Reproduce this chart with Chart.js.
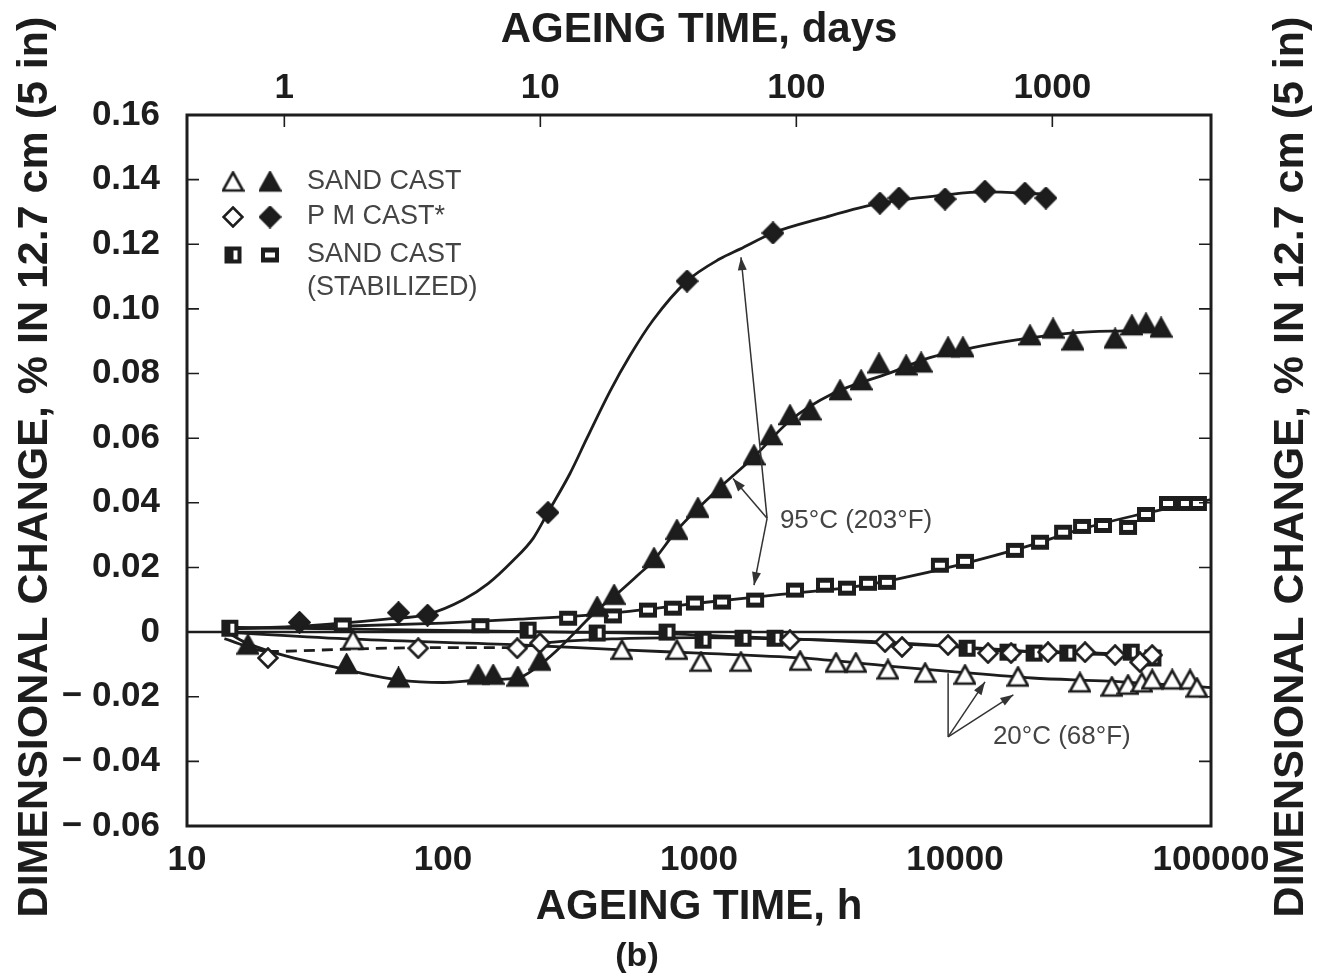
<!DOCTYPE html>
<html>
<head>
<meta charset="utf-8">
<title>Dimensional change vs ageing time</title>
<script src="https://cdn.jsdelivr.net/npm/chart.js@4.4.1/dist/chart.umd.min.js"></script>
<style>
    html, body { margin: 0; padding: 0; background: #fff; }
    #chart { display: block; }
</style>
</head>
<body>
<canvas id="chart" width="1323" height="978"></canvas>
<script>
// [ageing time (h), dimensional change (%)]
const sandCast95 = [[17.3,-0.004],[42,-0.010],[67,-0.0142],[137,-0.0133],[157,-0.0133],[196,-0.0139],[239,-0.009],[400,0.0077],[466,0.0114],[667,0.0228],[820,0.0315],[990,0.0383],[1218,0.0444],[1640,0.0546],[1911,0.0608],[2266,0.067],[2714,0.0685],[3555,0.0747],[4296,0.0778],[5047,0.083],[6440,0.0824],[7370,0.0833],[9390,0.088],[10740,0.088],[19630,0.0917],[24150,0.0938],[28900,0.0901],[42200,0.0907],[49100,0.0948],[55700,0.0954],[63800,0.0941]];
const pmCast95 = [[27.5,0.003],[67,0.006],[87,0.0052],[257,0.037],[898,0.1086],[1945,0.1235],[5090,0.1327],[6040,0.1343],[9140,0.134],[13090,0.1364],[18750,0.1358],[22650,0.1343]];
const stabilized95 = [[40.6,0.0022],[140,0.002],[308,0.0043],[461,0.005],[632,0.0068],[791,0.0074],[964,0.009],[1230,0.0093],[1656,0.0099],[2371,0.013],[3105,0.0145],[3785,0.0136],[4570,0.0151],[5420,0.0154],[8730,0.0207],[10940,0.0219],[17140,0.0253],[21480,0.0278],[26440,0.0309],[31340,0.0327],[37840,0.033],[47420,0.0324],[55720,0.0364],[67920,0.0398],[79800,0.0398],[88900,0.0398]];
const sandCast20 = [[44.5,-0.0025],[500,-0.0056],[820,-0.0056],[1018,-0.0093],[1458,-0.0093],[2482,-0.009],[3430,-0.0096],[4100,-0.0096],[5470,-0.0117],[7640,-0.0127],[10940,-0.0133],[17620,-0.0139],[30760,-0.0157],[41000,-0.017],[47400,-0.0164],[53700,-0.0157],[58900,-0.0148],[70500,-0.0148],[82800,-0.0148],[88100,-0.0173]];
const pmCast20 = [[20.7,-0.008],[80,-0.005],[195,-0.005],[239,-0.0034],[2265,-0.0025],[5330,-0.0031],[6210,-0.0046],[9390,-0.004],[13460,-0.0065],[16560,-0.0065],[23080,-0.0062],[32200,-0.0062],[42200,-0.0071],[52800,-0.0093],[58900,-0.0071]];
const stabilized20 = [[14.7,0.0012],[215,0.0006],[400,-0.0003],[750,0.0],[1037,-0.0025],[1486,-0.0019],[1982,-0.0019],[11150,-0.005],[16100,-0.0062],[20370,-0.0065],[27600,-0.0065],[48800,-0.0062],[59300,-0.008]];

// the hand-drawn fitted curves
const sandCast95Fit = [[15,-0.001],[17.1,-0.0034],[42,-0.0117],[67,-0.0148],[100,-0.0156],[137,-0.0149],[196,-0.0142],[233,-0.0108],[279,-0.0056],[343,0.0015],[400,0.0068],[462,0.0108],[588,0.0182],[655,0.0216],[820,0.0315],[1210,0.0448],[1630,0.054],[2265,0.0654],[3335,0.0738],[5570,0.0802],[7980,0.0849],[11750,0.088],[18460,0.0907],[28900,0.0926],[45300,0.0932],[67300,0.0935]];
const pmCast95Fit = [[14,0.001],[30,0.002],[60,0.004],[87,0.0055],[120,0.010],[150,0.015],[187,0.022],[225,0.029],[257,0.037],[313,0.049],[365,0.060],[449,0.0745],[537,0.0855],[661,0.0965],[898,0.1086],[1208,0.1155],[1445,0.1185],[1945,0.1235],[3000,0.128],[5090,0.1327],[9000,0.1352],[13000,0.1362],[22650,0.1355]];
const stabilized95Fit = [[14,0.001],[40,0.0018],[100,0.0028],[200,0.004],[400,0.0055],[700,0.0075],[1000,0.009],[2000,0.0115],[4000,0.014],[6000,0.0165],[10000,0.0205],[20000,0.027],[30000,0.0315],[50000,0.036],[100000,0.041]];
const sandCast20Fit = [[14,0.0],[45,-0.0022],[200,-0.004],[500,-0.0055],[1000,-0.0065],[2500,-0.008],[5500,-0.0105],[10000,-0.0123],[20000,-0.0142],[40000,-0.0152],[100000,-0.0172]];
const pmCast20Fit = [[14,-0.002],[20.7,-0.006],[45,-0.0052],[100,-0.0048],[195,-0.0048],[240,-0.0035],[500,-0.002],[1000,-0.0017],[2300,-0.0022],[5000,-0.003],[9000,-0.0042],[15000,-0.0058],[30000,-0.0062],[60000,-0.0075]];
const stabilized20Fit = [[14,0.0015],[100,0.0005],[300,0.0],[700,-0.0005],[1500,-0.0015],[3000,-0.0025],[10000,-0.0045],[20000,-0.006],[60000,-0.0075]];

const hourTicks = [10, 100, 1000, 10000, 100000];
const hourTickLabels = ['10', '100', '1000', '10000', '100000'];
const dayTicks = [1, 10, 100, 1000];
const dayTickLabels = ['1', '10', '100', '1000'];
const yTicks = [-0.06, -0.04, -0.02, 0, 0.02, 0.04, 0.06, 0.08, 0.10, 0.12, 0.14, 0.16];
const yTickLabels = ['\u2212 0.06', '\u2212 0.04', '\u2212 0.02', '0', '0.02', '0.04', '0.06', '0.08', '0.10', '0.12', '0.14', '0.16'];

// callouts: label anchor, joint, arrow tips (data units)
const note95 = { text: '95\u00B0C (203\u00B0F)', at: [2070, 0.0343], join: [1845, 0.0352], tips: [[1459, 0.116], [1358, 0.0475], [1640, 0.0145]], heads: [true, true, true] };
const note20 = { text: '20\u00B0C (68\u00B0F)', at: [14060, -0.0324], join: [9400, -0.0324], tips: [[9400, -0.0127], [13100, -0.0154], [16900, -0.0194]], heads: [false, true, true] };

const INK = '#1d1d1d';
const SOFT = '#444';
const FAMILY = "'Liberation Sans', Arial, Helvetica, sans-serif";
const HOURS_PER_DAY = 24;

function marker(w, h, draw) {
    const c = document.createElement('canvas');
    c.width = w;
    c.height = h;
    const g = c.getContext('2d');
    g.lineWidth = 2.6;
    g.strokeStyle = INK;
    g.fillStyle = INK;
    g.lineJoin = 'miter';
    draw(g);
    return c;
}

function triPath(g, s) {
    g.beginPath();
    g.moveTo(s / 2, 2);
    g.lineTo(s - 1.5, s - 3);
    g.lineTo(1.5, s - 3);
    g.closePath();
}

function diaPath(g, s) {
    g.beginPath();
    g.moveTo(s / 2, 1.5);
    g.lineTo(s - 1.5, s / 2);
    g.lineTo(s / 2, s - 1.5);
    g.lineTo(1.5, s / 2);
    g.closePath();
}

const openTri = marker(23, 23, g => { triPath(g, 23); g.fillStyle = '#fff'; g.fill(); g.stroke(); });
const fillTri = marker(23, 23, g => { triPath(g, 23); g.fill(); g.stroke(); });
const openDia = marker(22, 22, g => { diaPath(g, 22); g.fillStyle = '#fff'; g.fill(); g.stroke(); });
const fillDia = marker(23, 23, g => { diaPath(g, 23); g.fill(); g.stroke(); });
const slotH = marker(20, 17, g => { g.fillRect(1, 1, 18, 15); g.fillStyle = '#fff'; g.fillRect(5, 6, 10, 5); });
const slotV = marker(19, 19, g => { g.fillRect(1, 1, 17, 17); g.fillStyle = '#fff'; g.fillRect(10, 5, 4, 9); });

const legendRows = [
    { lines: ['SAND CAST'], marks: [openTri, fillTri] },
    { lines: ['P M CAST*'], marks: [openDia, fillDia] },
    { lines: ['SAND CAST', '(STABILIZED)'], marks: [slotV, slotH] }
];

function pts(arr) {
    return arr.map(([x, y]) => ({ x, y }));
}

function markerSet(label, arr, style) {
    return {
        label,
        data: pts(arr),
        showLine: false,
        pointStyle: style,
        pointRadius: 10,
        pointHoverRadius: 10,
        borderColor: INK,
        backgroundColor: INK
    };
}

function curveSet(label, arr, dashTo) {
    const ds = {
        label,
        data: pts(arr),
        showLine: true,
        pointRadius: 0,
        pointHoverRadius: 0,
        borderColor: INK,
        borderWidth: 2.8,
        cubicInterpolationMode: 'monotone',
        fill: false
    };
    if (dashTo) {
        ds.segment = {
            borderDash: ctx => (ctx.p0DataIndex >= 1 && ctx.p1DataIndex <= dashTo) ? [11, 7] : undefined
        };
    }
    return ds;
}

function arrow(ctx, x0, y0, x1, y1, head) {
    ctx.beginPath();
    ctx.moveTo(x0, y0);
    ctx.lineTo(x1, y1);
    ctx.stroke();
    if (!head) return;
    const a = Math.atan2(y1 - y0, x1 - x0);
    const len = 13, half = 4.5;
    ctx.beginPath();
    ctx.moveTo(x1, y1);
    ctx.lineTo(x1 - len * Math.cos(a) + half * Math.sin(a), y1 - len * Math.sin(a) - half * Math.cos(a));
    ctx.lineTo(x1 - len * Math.cos(a) - half * Math.sin(a), y1 - len * Math.sin(a) + half * Math.cos(a));
    ctx.closePath();
    ctx.fill();
}

function drawNote(chart, note) {
    const { ctx, scales: { x, y } } = chart;
    const jx = x.getPixelForValue(note.join[0]);
    const jy = y.getPixelForValue(note.join[1]);
    ctx.save();
    ctx.strokeStyle = '#333';
    ctx.fillStyle = '#333';
    ctx.lineWidth = 1.5;
    note.tips.forEach((t, i) => {
        arrow(ctx, jx, jy, x.getPixelForValue(t[0]), y.getPixelForValue(t[1]), note.heads[i]);
    });
    ctx.font = `26px ${FAMILY}`;
    ctx.fillStyle = SOFT;
    ctx.textAlign = 'left';
    ctx.textBaseline = 'middle';
    ctx.fillText(note.text, x.getPixelForValue(note.at[0]), y.getPixelForValue(note.at[1]));
    ctx.restore();
}

const overlay = {
    id: 'overlay',
    beforeDatasetsDraw(chart) {
        const { ctx, chartArea: a, scales: { y } } = chart;
        const y0 = y.getPixelForValue(0);
        ctx.save();
        ctx.strokeStyle = INK;
        ctx.lineWidth = 2.5;
        ctx.beginPath();
        ctx.moveTo(a.left, y0);
        ctx.lineTo(a.right, y0);
        ctx.stroke();
        ctx.restore();
    },
    afterDraw(chart) {
        const { ctx, chartArea: a, scales: { y, xTop } } = chart;
        ctx.save();

        // frame and inward ticks
        ctx.strokeStyle = INK;
        ctx.lineWidth = 3;
        ctx.strokeRect(a.left, a.top, a.right - a.left, a.bottom - a.top);
        ctx.lineWidth = 1.6;
        ctx.beginPath();
        yTicks.forEach(v => {
            const py = y.getPixelForValue(v);
            ctx.moveTo(a.left, py);
            ctx.lineTo(a.left + 12, py);
            ctx.moveTo(a.right - 12, py);
            ctx.lineTo(a.right, py);
        });
        dayTicks.forEach(d => {
            const px = xTop.getPixelForValue(d);
            ctx.moveTo(px, a.top);
            ctx.lineTo(px, a.top + 12);
        });
        ctx.stroke();

        // legend
        ctx.font = `27px ${FAMILY}`;
        ctx.textAlign = 'left';
        ctx.textBaseline = 'middle';
        const rowY = [182, 217, 255];
        legendRows.forEach((row, i) => {
            row.marks.forEach((m, k) => {
                ctx.drawImage(m, 233 + 37 * k - m.width / 2, rowY[i] - m.height / 2);
            });
            ctx.fillStyle = SOFT;
            row.lines.forEach((t, j) => ctx.fillText(t, 307, rowY[i] + 33 * j));
        });

        drawNote(chart, note95);
        drawNote(chart, note20);

        // y titles, both reading bottom to top
        ctx.fillStyle = INK;
        ctx.font = `bold 43px ${FAMILY}`;
        ctx.textAlign = 'center';
        ctx.textBaseline = 'middle';
        [35, 1291].forEach(cx => {
            ctx.save();
            ctx.translate(cx, 467);
            ctx.rotate(-Math.PI / 2);
            ctx.fillText('DIMENSIONAL CHANGE, % IN 12.7 cm (5 in)', 0, 0);
            ctx.restore();
        });

        ctx.font = `bold 34px ${FAMILY}`;
        ctx.fillText('(b)', 637, 957);
        ctx.restore();
    }
};

const tickFont = { family: FAMILY, size: 35, weight: 'bold' };
const titleFont = { family: FAMILY, size: 42, weight: 'bold' };
const noGrid = { display: false, drawTicks: false };

const chart = new Chart(document.getElementById('chart'), {
    type: 'scatter',
    data: {
        datasets: [
            markerSet('Sand cast, 95 \u00B0C', sandCast95, fillTri),
            markerSet('P M cast, 95 \u00B0C', pmCast95, fillDia),
            markerSet('Sand cast (stabilized), 95 \u00B0C', stabilized95, slotH),
            markerSet('Sand cast, 20 \u00B0C', sandCast20, openTri),
            markerSet('P M cast, 20 \u00B0C', pmCast20, openDia),
            markerSet('Sand cast (stabilized), 20 \u00B0C', stabilized20, slotV),
            curveSet('fit sand 95', sandCast95Fit),
            curveSet('fit pm 95', pmCast95Fit),
            curveSet('fit stab 95', stabilized95Fit),
            curveSet('fit sand 20', sandCast20Fit),
            curveSet('fit pm 20', pmCast20Fit, 4),
            curveSet('fit stab 20', stabilized20Fit)
        ]
    },
    options: {
        responsive: false,
        animation: false,
        devicePixelRatio: 1,
        layout: { padding: 0 },
        events: [],
        plugins: {
            legend: { display: false },
            tooltip: { enabled: false }
        },
        scales: {
            x: {
                type: 'logarithmic',
                position: 'bottom',
                min: hourTicks[0],
                max: hourTicks[hourTicks.length - 1],
                afterBuildTicks: s => { s.ticks = hourTicks.map(v => ({ value: v })); },
                afterFit: s => { s.height = 152; },
                ticks: {
                    autoSkip: false,
                    maxRotation: 0,
                    padding: 13,
                    color: INK,
                    font: tickFont,
                    callback: (v, i) => hourTickLabels[i]
                },
                grid: noGrid,
                border: { display: false },
                title: { display: true, text: 'AGEING TIME, h', color: INK, font: titleFont, padding: { top: 0, bottom: 45 } }
            },
            xTop: {
                type: 'logarithmic',
                position: 'top',
                min: hourTicks[0] / HOURS_PER_DAY,
                max: hourTicks[hourTicks.length - 1] / HOURS_PER_DAY,
                afterBuildTicks: s => { s.ticks = dayTicks.map(v => ({ value: v })); },
                afterFit: s => { s.height = 115; },
                ticks: {
                    autoSkip: false,
                    maxRotation: 0,
                    padding: 6,
                    color: INK,
                    font: tickFont,
                    callback: (v, i) => dayTickLabels[i]
                },
                grid: noGrid,
                border: { display: false },
                title: { display: true, text: 'AGEING TIME, days', color: INK, font: titleFont, padding: { top: 5, bottom: 0 } }
            },
            y: {
                type: 'linear',
                position: 'left',
                min: yTicks[0],
                max: yTicks[yTicks.length - 1],
                afterBuildTicks: s => { s.ticks = yTicks.map(v => ({ value: v })); },
                afterFit: s => { s.width = 187; },
                ticks: {
                    padding: 27,
                    color: INK,
                    font: tickFont,
                    callback: (v, i) => yTickLabels[i]
                },
                grid: noGrid,
                border: { display: false }
            },
            y2: {
                type: 'linear',
                position: 'right',
                min: yTicks[0],
                max: yTicks[yTicks.length - 1],
                afterFit: s => { s.width = 112; },
                ticks: { display: false },
                grid: noGrid,
                border: { display: false }
            }
        }
    },
    plugins: [overlay]
});
</script>
</body>
</html>
